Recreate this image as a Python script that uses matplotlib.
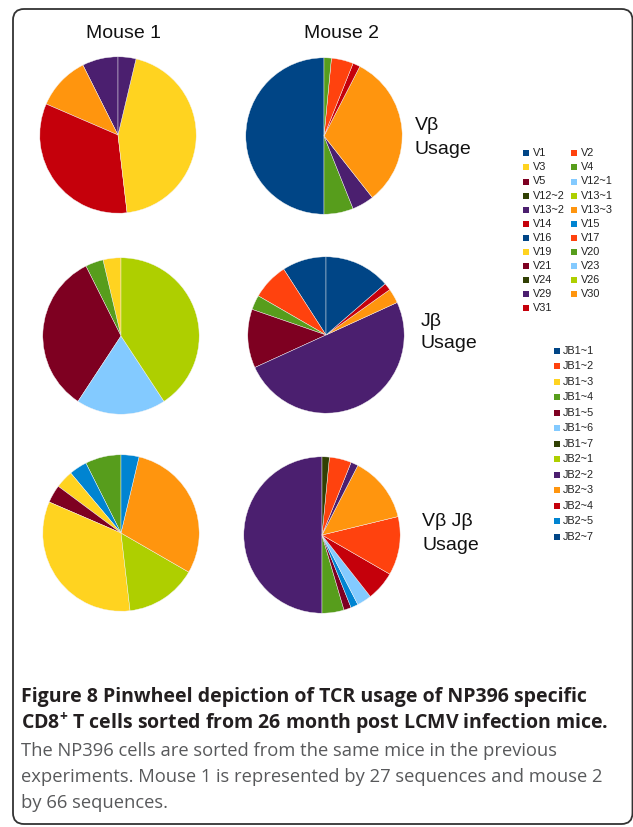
import matplotlib
matplotlib.use("Agg")
import matplotlib.pyplot as plt
from matplotlib.patches import FancyBboxPatch, Rectangle

W, H = 633, 827

palette = ['#004586', '#ff420e', '#ffd320', '#579d1c', '#7e0021', '#83caff',
           '#314004', '#aecf00', '#4b1f6f', '#ff950e', '#c5000b', '#0084d1']

v_genes = ['V1', 'V2', 'V3', 'V4', 'V5', 'V12~1', 'V12~2', 'V13~1', 'V13~2', 'V13~3',
           'V14', 'V15', 'V16', 'V17', 'V19', 'V20', 'V21', 'V23', 'V24', 'V26',
           'V29', 'V30', 'V31']
j_genes = ['JB1~1', 'JB1~2', 'JB1~3', 'JB1~4', 'JB1~5', 'JB1~6', 'JB1~7',
           'JB2~1', 'JB2~2', 'JB2~3', 'JB2~4', 'JB2~5', 'JB2~7']

# sequence counts, slices go counter-clockwise from 12 o'clock
m1_vb_genes = ['V13~2', 'V13~3', 'V14', 'V19', 'V29']
m1_vb_counts = [2, 3, 9, 12, 1]
m2_vb_genes = ['V1', 'V4', 'V13~2', 'V13~3', 'V14', 'V17', 'V20']
m2_vb_counts = [33, 4, 3, 21, 1, 3, 1]

m1_jb_genes = ['JB1~3', 'JB1~4', 'JB1~5', 'JB1~6', 'JB2~1']
m1_jb_counts = [1, 1, 9, 5, 11]
m2_jb_genes = ['JB1~1', 'JB1~2', 'JB1~4', 'JB1~5', 'JB2~2', 'JB2~3', 'JB2~4', 'JB2~7']
m2_jb_counts = [6, 5, 2, 8, 33, 2, 1, 9]

# V-J pairs: position of the pair in the full pair list (colour cycles every 12)
m1_vj_pair = [3, 11, 14, 16, 26, 31, 33, 35]
m1_vj_counts = [2, 1, 1, 1, 9, 4, 8, 1]
m2_vj_pair = [8, 15, 16, 23, 29, 34, 37, 45, 56, 61, 66]
m2_vj_counts = [33, 3, 1, 1, 2, 4, 8, 9, 1, 3, 1]

caption_bold = ["Figure 8 Pinwheel depiction of TCR usage of NP396 specific",
                "CD8$^{+}$ T cells sorted from 26 month post LCMV infection mice."]
caption_text = ["The NP396 cells are sorted from the same mice in the previous",
                "experiments. Mouse 1 is represented by 27 sequences and mouse 2",
                "by 66 sequences."]

plt.rcParams['mathtext.fontset'] = 'custom'
plt.rcParams['mathtext.rm'] = 'Open Sans:bold'
plt.rcParams['mathtext.default'] = 'rm'

fig = plt.figure(figsize=(W / 100, H / 100), dpi=100)
bg = fig.add_axes([0, 0, 1, 1])
bg.set_xlim(0, W)
bg.set_ylim(H, 0)
bg.axis('off')

bg.add_patch(FancyBboxPatch((13, 9), 619.5, 815, boxstyle="round,pad=0,rounding_size=11",
                            fc='white', ec='#333333', lw=1.3))


def gene_colors(genes, ref):
    return [palette[ref.index(g) % 12] for g in genes]


def draw_pie(cx, cy, counts, colors, r=79):
    ax = fig.add_axes([(cx - r) / W, 1 - (cy + r) / H, 2 * r / W, 2 * r / H])
    ax.pie(counts, colors=colors, startangle=90, counterclock=True,
           wedgeprops=dict(edgecolor='#f4f4f4', linewidth=0.3))
    ax.set_xlim(-1.01, 1.01)
    ax.set_ylim(-1.01, 1.01)
    ax.axis('off')


draw_pie(118, 135, m1_vb_counts, gene_colors(m1_vb_genes, v_genes))
draw_pie(324, 136, m2_vb_counts, gene_colors(m2_vb_genes, v_genes))
draw_pie(121, 336, m1_jb_counts, gene_colors(m1_jb_genes, j_genes))
draw_pie(326, 335, m2_jb_counts, gene_colors(m2_jb_genes, j_genes))
draw_pie(121, 533, m1_vj_counts, [palette[i % 12] for i in m1_vj_pair])
draw_pie(322, 535, m2_vj_counts, [palette[i % 12] for i in m2_vj_pair])

lab = dict(family='Liberation Sans', fontsize=14, color='#111111')
bg.text(123, 34, "Mouse 1", ha='center', va='center', **lab)
bg.text(341, 34, "Mouse 2", ha='center', va='center', **lab)
bg.text(415, 126, "Vβ", ha='left', va='center', **lab)
bg.text(415, 149, "Usage", ha='left', va='center', **lab)
bg.text(421, 321, "Jβ", ha='left', va='center', **lab)
bg.text(421, 344, "Usage", ha='left', va='center', **lab)
bg.text(422, 522, "Vβ Jβ", ha='left', va='center', **lab)
bg.text(422, 546, "Usage", ha='left', va='center', **lab)

# V legend, two columns filled row by row
for i, g in enumerate(v_genes):
    row, col = divmod(i, 2)
    x = 526 + col * 48
    y = 153.3 + row * 14.1
    bg.add_patch(Rectangle((x - 3, y - 3), 6, 6, fc=palette[i % 12], ec='none'))
    bg.text(x + 6.5, y, g, ha='left', va='center', family='Liberation Sans',
            fontsize=7.8, color='#222222')

# JB legend
for i, g in enumerate(j_genes):
    x = 556.7
    y = 351 + i * 15.47
    bg.add_patch(Rectangle((x - 3, y - 3), 6, 6, fc=palette[i % 12], ec='none'))
    bg.text(x + 6.5, y, g, ha='left', va='center', family='Liberation Sans',
            fontsize=7.8, color='#222222')

for k, line in enumerate(caption_bold):
    bg.text(21, 697 + k * 27, line, ha='left', va='center', family='Open Sans',
            fontweight='bold', fontsize=14, color='#231f20')
for k, line in enumerate(caption_text):
    bg.text(21, 751 + k * 26, line, ha='left', va='center', family='Open Sans',
            fontsize=13.2, color='#58595b')

fig.savefig("out.png", dpi=100)
